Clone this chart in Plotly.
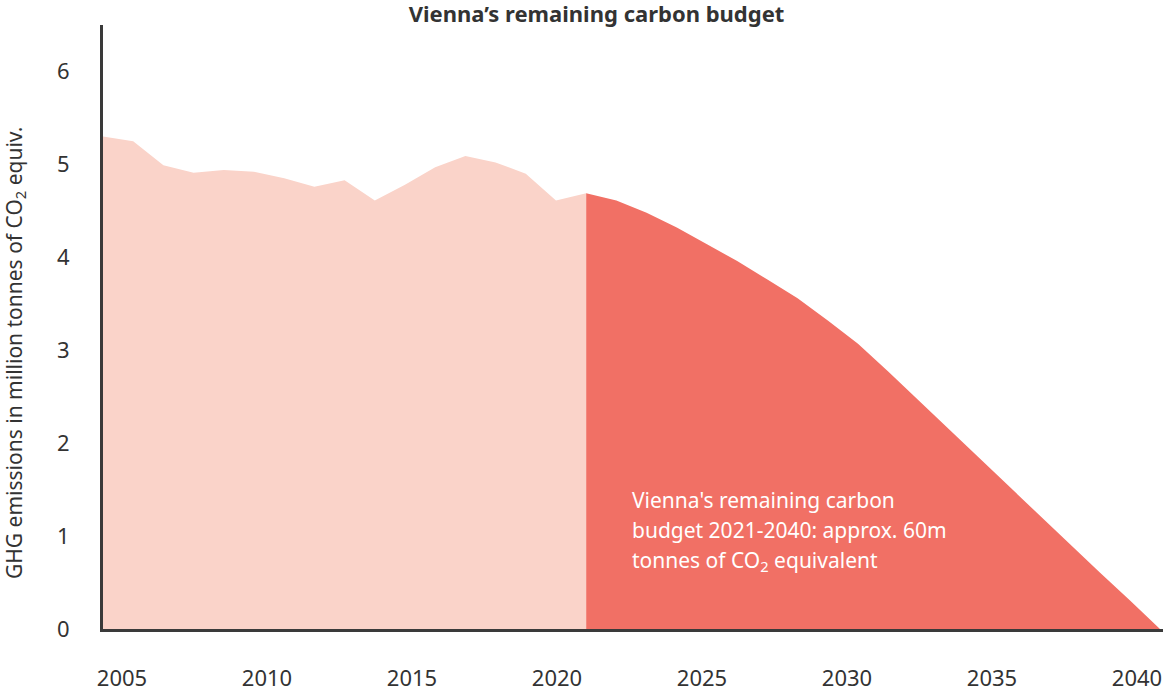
import plotly.graph_objects as go

# Historical emissions (million t CO2 equiv.)
hist_years = list(range(2005, 2022))
hist_values = [5.30, 5.25, 4.99, 4.91, 4.94, 4.92, 4.85, 4.76, 4.83, 4.61,
               4.78, 4.97, 5.09, 5.02, 4.90, 4.61, 4.69]

# Remaining budget path 2021-2040
budget_years = list(range(2021, 2041))
budget_values = [4.69, 4.61, 4.48, 4.32, 4.14, 3.96, 3.76, 3.56, 3.32, 3.07,
                 2.77, 2.46, 2.15, 1.84, 1.53, 1.22, 0.92, 0.61, 0.31, 0.0]

tick_labels = ["2005", "2010", "2015", "2020", "2025", "2030", "2035", "2040"]
y_ticks = [0, 1, 2, 3, 4, 5, 6]

note_lines = ["Vienna's remaining carbon",
              "budget 2021-2040: approx. 60m",
              "tonnes of CO<sub>2</sub> equivalent"]

LIGHT = "#FAD3C9"
RED = "#F17065"
AXIS = "#3a3a3a"
TEXT = "#333333"
FONT = "Noto Sans"

W, H = 1163, 693
ML, MR, MT, MB = 103, 0, 25, 64
PW, PH = W - ML - MR, H - MT - MB
BOTTOM = H - MB

# label positions in the reference sit slightly off the data years
label_years = [int(t) for t in tick_labels]
tick_pos = [2005 + (y - 2005) * (29.0 / 30.2) + 19.0 / 30.2 for y in label_years]

fig = go.Figure()
fig.add_trace(go.Scatter(x=hist_years, y=hist_values, mode="lines",
                         line=dict(width=0, color=LIGHT), fill="tozeroy",
                         fillcolor=LIGHT, hoverinfo="x+y", showlegend=False))
fig.add_trace(go.Scatter(x=budget_years, y=budget_values, mode="lines",
                         line=dict(width=0, color=RED), fill="tozeroy",
                         fillcolor=RED, hoverinfo="x+y", showlegend=False))

fig.update_layout(
    width=W, height=H,
    margin=dict(l=ML, r=MR, t=MT, b=MB, autoexpand=False),
    paper_bgcolor="white", plot_bgcolor="white",
    font=dict(family=FONT, color=TEXT, size=22),
    title=dict(text="<b>Vienna’s remaining carbon budget</b>",
               x=(596.5 - ML) / PW, xref="paper", xanchor="center",
               y=1 - 14.5 / H, yref="container", yanchor="middle",
               font=dict(family=FONT, size=22, color=TEXT)),
    xaxis=dict(range=[2005, 2040.1], showgrid=False, zeroline=False,
               showline=True, linecolor=AXIS, linewidth=3, automargin=False,
               tickmode="array", tickvals=tick_pos, ticktext=tick_labels,
               ticks="outside", ticklen=28, tickcolor="rgba(0,0,0,0)",
               tickfont=dict(size=22, color=TEXT, family=FONT)),
    yaxis=dict(range=[0, 6.5], showgrid=False, zeroline=False,
               showline=True, linecolor=AXIS, linewidth=3, automargin=False,
               tickmode="array", tickvals=y_ticks,
               ticks="outside", ticklen=26, tickcolor="rgba(0,0,0,0)",
               tickfont=dict(size=22, color=TEXT, family=FONT)),
)

fig.add_annotation(text="GHG emissions in million tonnes of CO<sub>2</sub> equiv.",
                   textangle=-90, xref="paper", yref="paper",
                   x=(15 - ML) / PW, y=(BOTTOM - 353) / PH,
                   xanchor="center", yanchor="middle", showarrow=False,
                   font=dict(family=FONT, size=21, color=TEXT))

line_centers = [500, 530, 561]
for txt, yc in zip(note_lines, line_centers):
    fig.add_annotation(text=txt, xref="paper", yref="paper",
                       x=(630 - ML) / PW, y=(BOTTOM - yc) / PH,
                       xanchor="left", yanchor="middle", align="left",
                       showarrow=False,
                       font=dict(family=FONT, size=21, color="white"))

fig.write_html("out.html", config={"displayModeBar": False},
               post_script="document.body.style.margin='0';document.body.style.overflow='hidden';")
